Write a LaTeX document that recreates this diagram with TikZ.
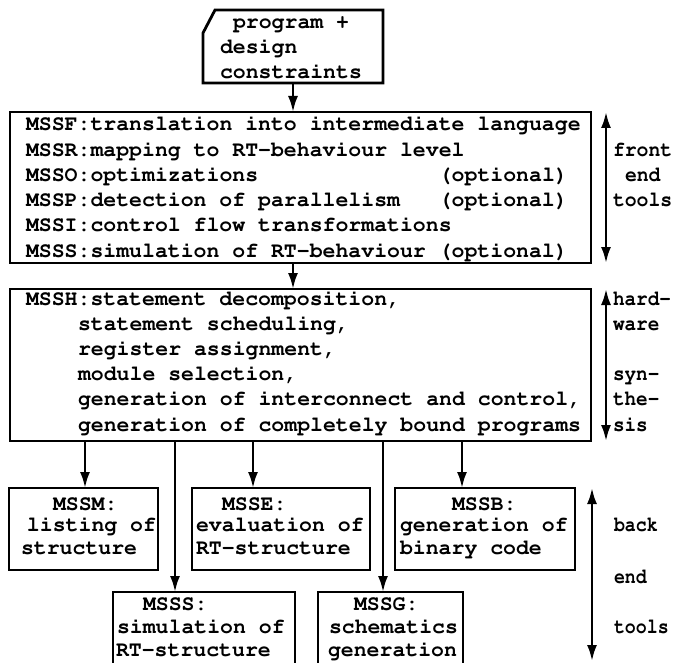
\documentclass[tikz,border=0pt]{standalone}
\usepackage[T1]{fontenc}
\usepackage{courier}
\usetikzlibrary{arrows.meta}
\newcommand\typew{\fontfamily{pcr}\fontseries{b}\fontsize{21.5pt}{25pt}\selectfont}
\tikzset{
  box/.style={draw, line width=2.8pt, inner sep=0pt, outer sep=0pt, anchor=north west},
  txt/.style={anchor=base west, inner sep=0pt, outer sep=0pt, font=\typew},
  mytip/.tip={Latex[length=16pt,width=10pt]},
  arr/.style={line width=2.4pt, -mytip},
  dbl/.style={line width=2.4pt, mytip-mytip},
}
\newcommand\lineat[4]{\node[txt] (#1) at (#2,#3) {#4};}
\newcommand\narrow[2]{\scalebox{#1}[1]{#2}}
\begin{document}
\begin{tikzpicture}[x=1pt,y=-1pt]
\useasboundingbox (0,0) rectangle (677,663);
\fill[white] (0,0) rectangle (677,663);
% boxes
\node[box, minimum width=180pt, minimum height=73pt, draw=none] (tb) at (203,10) {};
\draw[line width=2.8pt, line join=miter] (tb.south west) -- ([yshift=-23pt]tb.north west) -- ([xshift=12pt]tb.north west) -- (tb.north east) -- (tb.south east) -- cycle;
\node[box, minimum width=581pt, minimum height=151pt] (b1) at (10,112) {};
\node[box, minimum width=581pt, minimum height=152pt] (b2) at (10,289) {};
\node[box, minimum width=149pt, minimum height=82pt] (mssm) at (9,488) {};
\node[box, minimum width=178pt, minimum height=82pt] (msse) at (192,488) {};
\node[box, minimum width=180pt, minimum height=82pt] (mssb) at (395,488) {};
\node[box, minimum width=182pt, minimum height=90pt] (msss) at (113,592) {};
\node[box, minimum width=145pt, minimum height=90pt] (mssg) at (318,592) {};
% top box text
\lineat{t1}{233}{29}{program +}
\lineat{t2}{220}{54}{design}
\lineat{t3}{220}{79}{constraints}
% box 1 text
\lineat{f1}{26}{131}{MSSF:translation into intermediate language}
\lineat{f2}{26}{156.2}{MSSR:mapping to RT-behaviour level}
\lineat{f3}{26}{181.4}{MSSO:optimizations~~~~~~~~~~~~~~(optional)}
\lineat{f4}{26}{206.6}{MSSP:detection of parallelism~~~(optional)}
\lineat{f5}{26}{231.8}{MSSI:control flow transformations}
\lineat{f6}{26}{257}{MSSS:simulation of RT-behaviour (optional)}
% box 2 text
\lineat{h1}{26}{305}{MSSH:statement decomposition,}
\lineat{h2}{78}{330.2}{statement scheduling,}
\lineat{h3}{78}{355.4}{register assignment,}
\lineat{h4}{78}{380.6}{module selection,}
\lineat{h5}{78}{405.8}{generation of interconnect and control,}
\lineat{h6}{78}{431}{generation of completely bound programs}
% side labels
\lineat{s1}{613}{156.2}{\narrow{0.92}{front}}
\lineat{s2}{625}{181.4}{\narrow{0.92}{end}}
\lineat{s3}{613}{206.6}{\narrow{0.92}{tools}}
\lineat{s4}{613}{305}{\narrow{0.9}{hard-}}
\lineat{s5}{613}{330.2}{\narrow{0.9}{ware}}
\lineat{s6}{613}{380.6}{\narrow{0.9}{syn-}}
\lineat{s7}{613}{405.8}{\narrow{0.9}{the-}}
\lineat{s8}{613}{431}{\narrow{0.9}{sis}}
\lineat{s9}{614}{531}{\narrow{0.85}{back}}
\lineat{s10}{614}{583}{\narrow{0.85}{end}}
\lineat{s11}{614}{633}{\narrow{0.85}{tools}}
% row boxes text
\lineat{m1}{53}{510}{MSSM:}
\lineat{m2}{27}{531}{listing of}
\lineat{m3}{21}{554}{structure}
\lineat{e1}{222}{510}{MSSE:}
\lineat{e2}{196}{531}{evaluation of}
\lineat{e3}{196}{554}{RT-structure}
\lineat{bb1}{452}{510}{MSSB:}
\lineat{bb2}{400}{531}{generation of}
\lineat{bb3}{400}{554}{binary code}
\lineat{ss1}{143}{610}{MSSS:}
\lineat{ss2}{117}{633}{simulation of}
\lineat{ss3}{116}{656}{RT-structure}
\lineat{g1}{354}{610}{MSSG:}
\lineat{g2}{329}{633}{schematics}
\lineat{g3}{328}{656}{generation}
% connectors
\coordinate (ax0) at (293,0);
\coordinate (ax1) at (85,0);
\coordinate (ax2) at (175,0);
\coordinate (ax3) at (253,0);
\coordinate (ax4) at (383,0);
\coordinate (ax5) at (462,0);
\coordinate (sx) at (606,0);
\coordinate (bx) at (592,0);
\coordinate (bend) at (592,661);
\draw[arr] (tb.south -| ax0) -- (b1.north -| ax0);
\draw[arr] (b1.south -| ax0) -- (b2.north -| ax0);
\draw[arr] (b2.south -| ax1) -- (mssm.north -| ax1);
\draw[arr] (b2.south -| ax2) -- (msss.north -| ax2);
\draw[arr] (b2.south -| ax3) -- (msse.north -| ax3);
\draw[arr] (b2.south -| ax4) -- (mssg.north -| ax4);
\draw[arr] (b2.south -| ax5) -- (mssb.north -| ax5);
\draw[dbl] (b1.north -| sx) -- (b1.south -| sx);
\draw[dbl] (b2.north -| sx) -- (b2.south -| sx);
\draw[dbl] (mssb.north -| bx) -- (bend);
\end{tikzpicture}
\end{document}
